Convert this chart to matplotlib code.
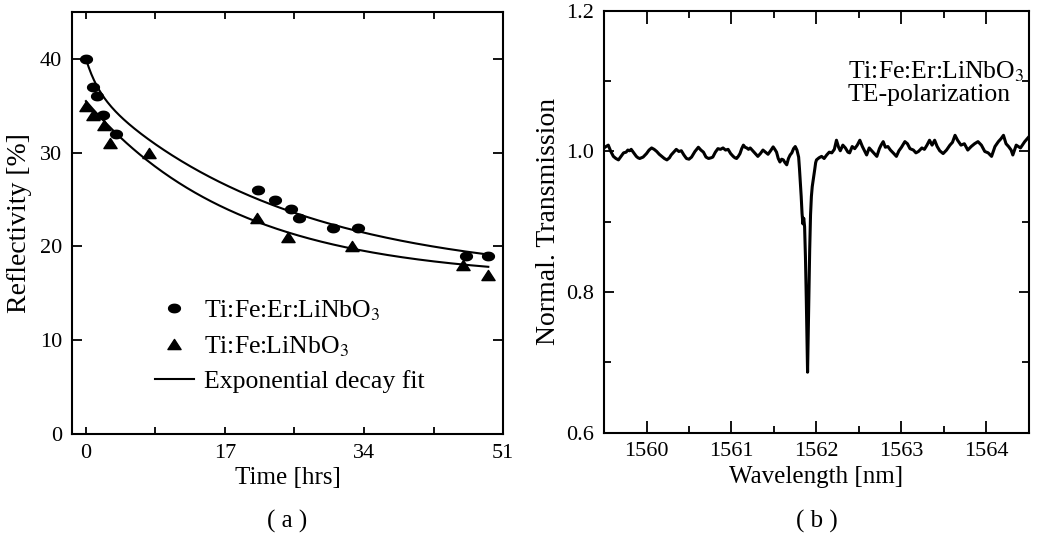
import numpy as np
import matplotlib as mpl
mpl.use('Agg')
from matplotlib import pyplot as plt
from matplotlib.path import Path
from matplotlib.lines import Line2D

plt.rcParams['font.family'] = ['Liberation Serif', 'DejaVu Serif']
plt.rcParams['mathtext.fontset'] = 'stix'

# (a) reflectivity decay
er_time = [0, 0.9, 1.4, 2.1, 3.7, 21.1, 23.1, 25.1, 26.1, 30.2, 33.3, 46.5, 49.2]
er_refl = [40, 37, 36, 34, 32, 26, 25, 24, 23, 22, 22, 19, 19]
fe_time = [0, 0.9, 2.2, 3.0, 7.7, 20.9, 24.7, 32.5, 46.1, 49.2]
fe_refl = [35, 34, 33, 31, 30, 23, 21, 20, 18, 17]

# exponential decay fit parameters (offset, amplitude, time constant)
er_fit = dict(y0=16.5, a1=20.5, t1=24.0, a2=3.0, t2=1.5)
fe_fit = dict(y0=16.5, a1=19.0, t1=18.5)

# (b) normalised transmission spectrum
wavelength = [
    1559.48, 1559.51, 1559.55, 1559.58, 1559.61, 1559.64, 1559.67, 1559.70, 1559.73, 1559.76,
    1559.78, 1559.80, 1559.82, 1559.85, 1559.88, 1559.90, 1559.92, 1559.96, 1560.00, 1560.03,
    1560.06, 1560.09, 1560.12, 1560.15, 1560.18, 1560.21, 1560.24, 1560.27, 1560.29, 1560.32,
    1560.35, 1560.38, 1560.41, 1560.44, 1560.47, 1560.50, 1560.53, 1560.57, 1560.61, 1560.64,
    1560.67, 1560.70, 1560.73, 1560.76, 1560.78, 1560.81, 1560.84, 1560.87, 1560.90, 1560.93,
    1560.96, 1560.99, 1561.02, 1561.04, 1561.06, 1561.08, 1561.10, 1561.12, 1561.14, 1561.16,
    1561.18, 1561.20, 1561.22, 1561.25, 1561.28, 1561.31, 1561.34, 1561.37, 1561.40, 1561.43,
    1561.46, 1561.49, 1561.51, 1561.53, 1561.55, 1561.57, 1561.59, 1561.61, 1561.63, 1561.65,
    1561.67, 1561.69, 1561.71, 1561.73, 1561.75, 1561.77, 1561.79, 1561.80, 1561.81, 1561.82,
    1561.83, 1561.84, 1561.85, 1561.86, 1561.87, 1561.88, 1561.895, 1561.91, 1561.92, 1561.93,
    1561.94, 1561.95, 1561.96, 1561.97, 1561.98, 1561.99, 1562.00, 1562.03, 1562.06, 1562.09,
    1562.12, 1562.15, 1562.18, 1562.21, 1562.235, 1562.26, 1562.28, 1562.31, 1562.34, 1562.37,
    1562.39, 1562.42, 1562.45, 1562.48, 1562.51, 1562.54, 1562.57, 1562.59, 1562.62, 1562.65,
    1562.68, 1562.71, 1562.74, 1562.76, 1562.785, 1562.81, 1562.84, 1562.87, 1562.91, 1562.94,
    1562.97, 1563.00, 1563.04, 1563.07, 1563.10, 1563.14, 1563.17, 1563.20, 1563.24, 1563.27,
    1563.30, 1563.33, 1563.36, 1563.39, 1563.42, 1563.45, 1563.49, 1563.53, 1563.57, 1563.60,
    1563.63, 1563.66, 1563.70, 1563.74, 1563.78, 1563.82, 1563.86, 1563.90, 1563.94, 1563.98,
    1564.02, 1564.06, 1564.10, 1564.14, 1564.17, 1564.20, 1564.23, 1564.26, 1564.29, 1564.31,
    1564.35, 1564.40, 1564.45, 1564.50]
transmission = [
    1.002, 1.006, 1.009, 1.000, 0.993, 0.990, 0.988, 0.993, 0.998, 0.999,
    1.002, 1.001, 1.003, 0.998, 0.993, 0.991, 0.990, 0.992, 0.997, 1.002,
    1.005, 1.003, 1.000, 0.996, 0.993, 0.990, 0.988, 0.991, 0.995, 0.999,
    1.003, 1.000, 1.001, 0.995, 0.990, 0.989, 0.992, 1.000, 1.006, 1.002,
    0.999, 0.992, 0.990, 0.991, 0.992, 0.999, 1.004, 1.003, 1.005, 1.002,
    1.003, 0.997, 0.993, 0.991, 0.990, 0.993, 0.997, 1.004, 1.009, 1.006,
    1.005, 1.003, 1.005, 1.001, 0.997, 0.993, 0.997, 1.002, 0.999, 0.996,
    1.001, 1.0065, 1.003, 0.999, 0.990, 0.985, 0.989, 0.988, 0.984, 0.981,
    0.990, 0.995, 0.998, 1.004, 1.007, 1.002, 0.992, 0.975, 0.955, 0.936,
    0.912, 0.897, 0.905, 0.893, 0.850, 0.790, 0.686, 0.790, 0.860, 0.910,
    0.936, 0.950, 0.958, 0.965, 0.975, 0.984, 0.988, 0.991, 0.993, 0.990,
    0.995, 0.999, 0.998, 1.003, 1.016, 1.006, 1.001, 1.009, 1.005, 0.999,
    0.998, 1.007, 1.004, 1.009, 1.016, 1.007, 1.000, 0.995, 1.005, 1.001,
    0.997, 0.993, 1.004, 1.009, 1.014, 1.006, 1.007, 1.002, 0.997, 0.993,
    1.001, 1.006, 1.014, 1.011, 1.004, 1.002, 0.998, 1.000, 1.005, 1.003,
    1.009, 1.016, 1.009, 1.016, 1.007, 1.001, 0.997, 1.002, 1.009, 1.013,
    1.023, 1.016, 1.009, 1.011, 1.002, 1.007, 1.011, 1.014, 1.009, 1.000,
    0.998, 0.993, 1.007, 1.014, 1.018, 1.023, 1.011, 1.007, 1.002, 0.995,
    1.009, 1.005, 1.014, 1.021]


def style_axes(ax):
    for s in ax.spines.values():
        s.set_linewidth(1.5)
    ax.tick_params(which='both', direction='in', top=True, right=True,
                   width=1.3, labelsize=16, pad=7)


# slightly flattened dot and triangle like the original scan
t = np.linspace(0, 2 * np.pi, 40)
dot = Path(np.column_stack([1.4 * np.cos(t), np.sin(t)]), closed=True)
tri = Path([(0, 0.77), (-1, -0.77), (1, -0.77), (0, 0.77)], closed=True)

fig = plt.figure(figsize=(10.38, 5.43), dpi=100)
ax1 = fig.add_axes([0.0694, 0.2007, 0.4152, 0.7772])
ax2 = fig.add_axes([0.5819, 0.2032, 0.4094, 0.7768])

# ---- panel (a)
tt = np.linspace(0, 49.2, 300)
er_curve = (er_fit['y0'] + er_fit['a1'] * np.exp(-tt / er_fit['t1'])
            + er_fit['a2'] * np.exp(-tt / er_fit['t2']))
fe_curve = fe_fit['y0'] + fe_fit['a1'] * np.exp(-tt / fe_fit['t1'])
ax1.plot(tt, er_curve, color='black', lw=1.5)
ax1.plot(tt, fe_curve, color='black', lw=1.5)
ax1.plot(er_time, er_refl, linestyle='none', marker=dot, ms=8.5, color='black')
ax1.plot(fe_time, fe_refl, linestyle='none', marker=tri, ms=9.5, color='black')

ax1.set_xlim(-1.7, 51)
ax1.set_ylim(0, 45)
ax1.set_xticks([0, 17, 34, 51])
ax1.set_xticks([8.5, 25.5, 42.5], minor=True)
ax1.set_yticks([0, 10, 20, 30, 40])
style_axes(ax1)
ax1.tick_params(axis='x', which='both', length=5)
ax1.tick_params(axis='y', which='both', length=7)
ax1.set_xlabel('Time [hrs]', fontsize=18, labelpad=3)
ax1.set_ylabel('Reflectivity [%]', fontsize=20, labelpad=6)

handles = [
    Line2D([], [], linestyle='none', marker=dot, ms=8.5, color='black'),
    Line2D([], [], linestyle='none', marker=tri, ms=9.5, color='black'),
    Line2D([], [], color='black', lw=1.5),
]
labels = ['Ti:Fe:Er:LiNbO$_3$', 'Ti:Fe:LiNbO$_3$', 'Exponential decay fit']
ax1.legend(handles, labels, loc='upper left', bbox_to_anchor=(0.193, 0.322),
           frameon=False, fontsize=18.5, handlelength=1.5, handletextpad=0.4,
           labelspacing=0.45, borderpad=0, borderaxespad=0)

# ---- panel (b)
ax2.plot(wavelength, transmission, color='black', lw=2.2)
ax2.set_xlim(1559.5, 1564.5)
ax2.set_ylim(0.6, 1.2)
ax2.set_xticks([1560, 1561, 1562, 1563, 1564])
ax2.set_xticks([1560.5, 1561.5, 1562.5, 1563.5], minor=True)
ax2.set_yticks([0.6, 0.8, 1.0, 1.2])
ax2.set_yticks([0.7, 0.9, 1.1], minor=True)
style_axes(ax2)
ax2.tick_params(axis='x', which='major', length=9)
ax2.tick_params(axis='x', which='minor', length=5)
ax2.tick_params(axis='y', which='major', length=7)
ax2.tick_params(axis='y', which='minor', length=5)
ax2.set_xlabel('Wavelength [nm]', fontsize=18, labelpad=3)
ax2.set_ylabel('Normal. Transmission', fontsize=20, labelpad=4)
ax2.text(1562.37, 1.113, 'Ti:Fe:Er:LiNbO$_3$', fontsize=18.5, ha='left', va='center')
ax2.text(1562.37, 1.081, 'TE-polarization', fontsize=18.5, ha='left', va='center')

fig.text(287 / 1038, 1 - 521 / 543, '( a )', fontsize=18, ha='center', va='center')
fig.text(817 / 1038, 1 - 521 / 543, '( b )', fontsize=18, ha='center', va='center')

plt.savefig('out.png', dpi=100)
plt.close(fig)
